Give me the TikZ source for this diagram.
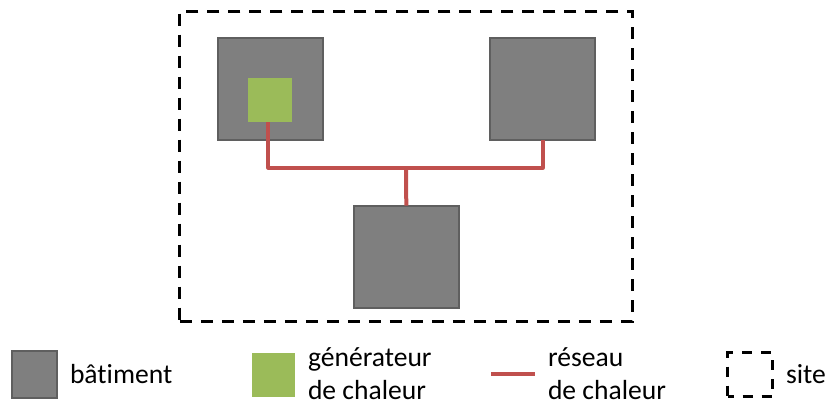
\documentclass[tikz,border=0pt]{standalone}
\usepackage{fontspec}
\setmainfont{Carlito}[Ligatures={NoCommon}]
\definecolor{bfill}{HTML}{7F7F7F}
\definecolor{bdraw}{HTML}{5F5F5F}
\definecolor{gen}{HTML}{9BBB59}
\definecolor{netred}{HTML}{C0504D}
\tikzset{
  bldg/.style={rectangle, fill=bfill, draw=bdraw, line width=2pt, inner sep=0pt, outer sep=0pt},
  genbox/.style={rectangle, fill=gen, inner sep=0pt, outer sep=0pt},
  net/.style={draw=netred, line width=4pt, line join=round},
  sitebox/.style={rectangle, draw=black, line width=3pt, dash pattern=on 12pt off 9pt, inner sep=0pt, outer sep=0pt},
  lbl/.style={inner sep=0pt, outer sep=0pt, text=black, font=\fontsize{27.6pt}{33pt}\selectfont},
}
\begin{document}
\begin{tikzpicture}[x=1pt,y=-1pt]
\useasboundingbox (0,0) rectangle (829,405);
% site
\node[sitebox, minimum width=452.7pt, minimum height=310pt] (site) at (406.3,166) {};
% buildings
\node[bldg, minimum width=105pt, minimum height=102pt] (b1) at (270,89.3) {};
\node[bldg, minimum width=105pt, minimum height=102pt] (b2) at (542.85,89.3) {};
\node[bldg, minimum width=105pt, minimum height=102pt] (b3) at (406.3,256.7) {};
\node[genbox, minimum width=43.7pt, minimum height=43.7pt] (g) at (270.2,100.2) {};
% network
\coordinate (j) at (406,167.7);
\draw[net] ([xshift=-2pt]g.south) |- (j) -| (b2.south);
\draw[net] (j) -- (b3.north);
% legend
\node[bldg, minimum width=45pt, minimum height=47pt] (lb) at (34.5,374.5) {};
\node[lbl, anchor=base west] (tb) at (70,383) {bâtiment};
\node[genbox, minimum width=43pt, minimum height=44pt] (lg) at (273.5,375) {};
\node[lbl, anchor=base west] (tg1) at (308,366) {générateur};
\node[lbl, anchor=base west] (tg2) at (308,399) {de chaleur};
\coordinate (ln1) at (491,374);
\coordinate (ln2) at (535,374);
\draw[net, line join=miter] (ln1) -- (ln2);
\node[lbl, anchor=base west] (tr1) at (548,366) {réseau};
\node[lbl, anchor=base west] (tr2) at (548,399) {de chaleur};
\node[sitebox, dash pattern=on 10pt off 9pt, dash phase=4pt, minimum width=45pt, minimum height=44pt] (ls) at (750,374.5) {};
\node[lbl, anchor=base west] (ts) at (786,383) {site};
\end{tikzpicture}
\end{document}
